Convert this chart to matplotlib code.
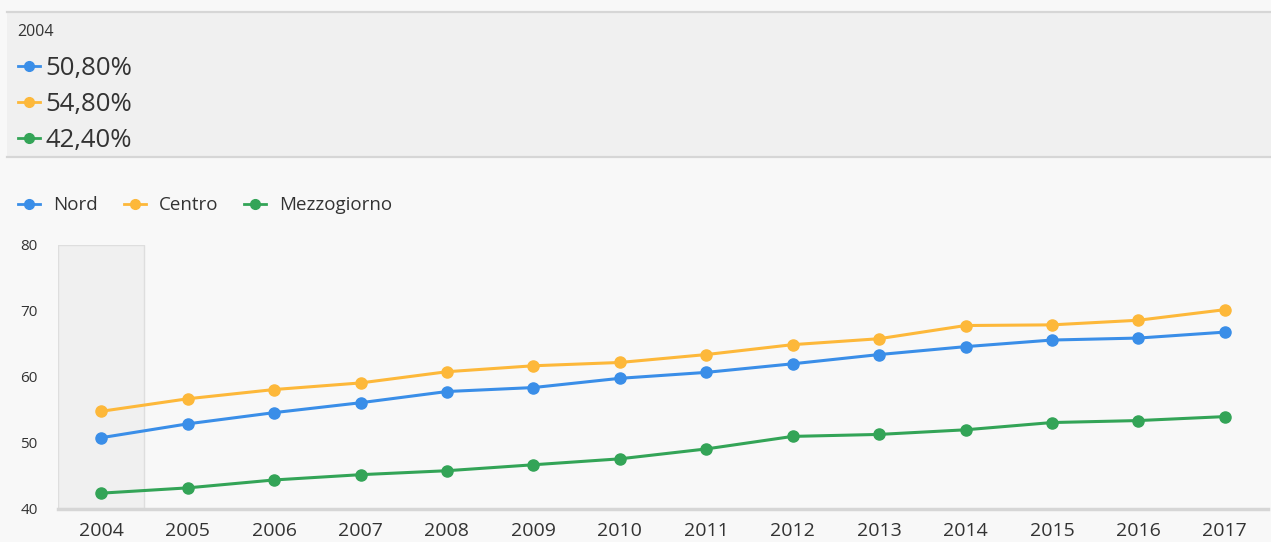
import matplotlib.pyplot as plt
from matplotlib.lines import Line2D
from matplotlib.patches import Rectangle

# === Data ===
years = [2004, 2005, 2006, 2007, 2008, 2009, 2010, 2011, 2012, 2013, 2014, 2015, 2016, 2017]
nord = [50.8, 52.9, 54.6, 56.1, 57.8, 58.4, 59.8, 60.7, 62.0, 63.4, 64.6, 65.6, 65.9, 66.8]
centro = [54.8, 56.7, 58.1, 59.1, 60.8, 61.7, 62.2, 63.4, 64.9, 65.8, 67.8, 67.9, 68.6, 70.2]
mezzogiorno = [42.4, 43.2, 44.4, 45.2, 45.8, 46.7, 47.6, 49.1, 51.0, 51.3, 52.0, 53.1, 53.4, 54.0]
series_names = ["Nord", "Centro", "Mezzogiorno"]
header_year = "2004"
header_values = ["50,80%", "54,80%", "42,40%"]
y_ticks = [40, 50, 60, 70, 80]

colors = ["#3a8ee8", "#fdb83a", "#33a457"]
text_color = "#333333"
plt.rcParams['font.family'] = ['Open Sans', 'DejaVu Sans']

W, H = 1271, 542
fig = plt.figure(figsize=(W / 100, H / 100), dpi=100)
fig.patch.set_facecolor("#f8f8f8")


def fx(px):
    return px / W


def fy(py):
    return 1 - py / H


# === Header panel ===
fig.patches.append(Rectangle((fx(7), fy(157)), fx(W - 7), (157 - 12) / H,
                             transform=fig.transFigure, facecolor="#f0f0f0",
                             edgecolor="none", zorder=0))
for yy in (12, 157):
    fig.lines.append(Line2D([fx(7), 1], [fy(yy), fy(yy)], transform=fig.transFigure,
                            color="#d6d6d6", lw=1.6))
fig.text(fx(17), fy(32), header_year, fontsize=11.5, color=text_color, va="center")
for i, (val, c) in enumerate(zip(header_values, colors)):
    yy = 66 + i * 36
    fig.lines.append(Line2D([fx(18), fx(40)], [fy(yy), fy(yy)], transform=fig.transFigure,
                            color=c, lw=2))
    fig.lines.append(Line2D([fx(29)], [fy(yy)], transform=fig.transFigure, color=c,
                            marker="o", markersize=7))
    fig.text(fx(45), fy(yy + 2), val, fontsize=18.5, color=text_color, va="center")

# === Legend ===
leg_x = [18, 124, 244]
for name, c, lx in zip(series_names, colors, leg_x):
    fig.lines.append(Line2D([fx(lx), fx(lx + 22)], [fy(204), fy(204)], transform=fig.transFigure,
                            color=c, lw=2))
    fig.lines.append(Line2D([fx(lx + 11)], [fy(204)], transform=fig.transFigure, color=c,
                            marker="o", markersize=7))
    fig.text(fx(lx + 35), fy(205), name, fontsize=13.5, color=text_color, va="center")

# === Main chart ===
ax = fig.add_axes([fx(58), fy(509), fx(1268 - 58), (509 - 245) / H])
ax.set_facecolor("none")
x = list(range(len(years)))
ax.set_xlim(-0.5, len(years) - 0.5)
ax.set_ylim(40, 80)

ax.add_patch(Rectangle((-0.5, 40), 1, 40, facecolor="#f0f0f0", edgecolor="#dedede",
                       lw=1, zorder=0))

for vals, c in zip([nord, centro, mezzogiorno], colors):
    ax.plot(x, vals, color=c, lw=2.2, marker="o", markersize=8, zorder=3, clip_on=False)

for s in ["top", "right", "left"]:
    ax.spines[s].set_visible(False)
ax.spines["bottom"].set_color("#d6d6d6")
ax.spines["bottom"].set_linewidth(2.5)

ax.set_xticks(x)
ax.set_xticklabels([str(y) for y in years], fontsize=14, color=text_color)
ax.set_yticks(y_ticks)
ax.set_yticklabels([str(v) for v in y_ticks], fontsize=11, color=text_color)
ax.tick_params(axis="x", length=0, pad=9)
ax.tick_params(axis="y", length=0, pad=27)
for lbl in ax.get_yticklabels():
    lbl.set_horizontalalignment("left")

fig.savefig("out.png", dpi=100, facecolor=fig.get_facecolor())
